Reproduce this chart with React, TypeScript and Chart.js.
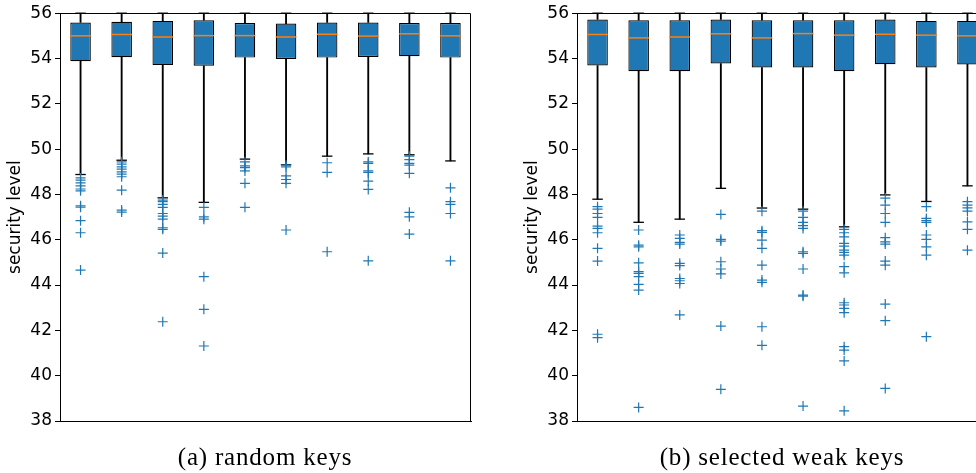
import React, { useEffect, useRef } from 'react';
import { Chart, registerables } from 'chart.js';

Chart.register(...registerables);

const categories = ['1', '2', '3', '4', '5', '6', '7', '8', '9', '10'];
const yMin = 38;
const yMax = 56;
const yStep = 2;

// (a) random keys
const q1A = [53.88, 54.06, 53.71, 53.68, 54.04, 53.98, 54.04, 54.07, 54.1, 54.04];
const medA = [55.0, 55.06, 54.95, 55.01, 55.01, 54.95, 55.07, 54.99, 55.09, 55.0];
const q3A = [55.59, 55.62, 55.66, 55.69, 55.57, 55.54, 55.59, 55.59, 55.57, 55.57];
const loA = [48.88, 49.51, 47.85, 47.65, 49.56, 49.31, 49.69, 49.79, 49.75, 49.48];
const hiA = [56, 56, 56, 56, 56, 56, 56, 56, 56, 56];
const outliersA = [
  [48.73, 48.63, 48.51, 48.38, 48.24, 48.16, 47.5, 47.44, 46.84, 46.31, 44.66],
  [49.44, 49.34, 49.22, 49.12, 49.0, 48.9, 48.78, 48.19, 47.31, 47.22],
  [47.75, 47.68, 47.56, 47.43, 47.16, 47.04, 46.91, 46.53, 46.46, 45.41, 42.38],
  [47.43, 47.01, 46.91, 44.37, 42.93, 41.31],
  [49.44, 49.26, 49.18, 49.04, 48.49, 47.43],
  [49.29, 49.22, 48.82, 48.66, 48.49, 46.43],
  [49.4, 48.97, 45.47],
  [49.44, 49.37, 49.04, 48.97, 48.59, 48.22, 45.07],
  [49.69, 49.54, 49.37, 49.29, 48.93, 47.21, 47.01, 46.25],
  [48.29, 47.68, 47.56, 47.16, 45.07],
];

// (b) selected weak keys
const q1B = [53.69, 53.44, 53.44, 53.78, 53.6, 53.6, 53.44, 53.75, 53.6, 53.74];
const medB = [55.06, 54.91, 54.95, 55.09, 54.91, 55.1, 55.03, 55.07, 55.03, 55.0];
const q3B = [55.72, 55.69, 55.69, 55.72, 55.69, 55.69, 55.69, 55.72, 55.66, 55.66];
const loB = [47.79, 46.77, 46.91, 48.27, 47.4, 47.35, 46.57, 47.98, 47.69, 48.38];
const hiB = [56, 56, 56, 56, 56, 56, 56, 56, 56, 56];
const outliersB = [
  [47.46, 47.35, 47.16, 46.99, 46.6, 46.5, 46.31, 45.62, 45.06, 41.83, 41.68],
  [46.43, 45.76, 45.69, 44.98, 44.59, 44.52, 44.37, 44.03, 43.78, 38.6],
  [46.21, 46.06, 45.88, 45.81, 44.96, 44.86, 44.29, 44.19, 44.07, 42.68],
  [47.12, 46.02, 45.94, 45.03, 44.71, 44.49, 42.19, 39.4],
  [47.26, 46.4, 46.33, 45.98, 45.62, 44.88, 44.22, 44.12, 42.16, 41.34],
  [47.26, 46.99, 46.77, 46.62, 46.5, 45.47, 45.4, 44.71, 43.56, 43.51, 38.66],
  [46.46, 46.31, 46.13, 45.84, 45.72, 45.54, 45.44, 45.32, 44.81, 44.54, 43.22, 43.12, 42.97, 42.78, 41.28, 41.13, 40.65, 38.45],
  [47.84, 47.53, 47.16, 46.77, 46.09, 45.91, 45.81, 45.06, 44.88, 43.16, 42.43, 39.44],
  [47.46, 46.94, 46.84, 46.77, 46.21, 46.02, 45.69, 45.32, 41.72],
  [47.68, 47.53, 47.41, 47.26, 46.79, 46.46, 45.54],
];

const yLabel = 'security level';
const captionA = '(a) random keys';
const captionB = '(b) selected weak keys';

const BLUE = '#1f77b4';
const ORANGE = '#ff7f0e';

type PanelProps = {
  q1: number[];
  med: number[];
  q3: number[];
  lo: number[];
  hi: number[];
  outliers: number[][];
  left: number;
};

function BoxPanel({ q1, med, q3, lo, hi, outliers, left }: PanelProps) {
  const ref = useRef<HTMLCanvasElement>(null);
  useEffect(() => {
    if (!ref.current) return;
    const frame = {
      id: 'frame',
      afterDatasetsDraw(chart: any) {
        const { ctx, chartArea } = chart;
        ctx.save();
        ctx.strokeStyle = '#000';
        ctx.lineWidth = 1;
        const t = Math.round(chartArea.top) + 0.5;
        const r = Math.round(chartArea.right) - 0.5;
        ctx.beginPath();
        ctx.moveTo(chartArea.left, t);
        ctx.lineTo(r, t);
        ctx.lineTo(r, chartArea.bottom);
        ctx.stroke();
        ctx.restore();
      },
    };
    const pts = (vals: number[]) => vals.map((v, i) => ({ x: categories[i], y: v }));
    const outPts: any[] = [];
    outliers.forEach((arr, i) => arr.forEach((v) => outPts.push({ x: categories[i], y: v })));

    const chart = new Chart(ref.current, {
      type: 'bar',
      data: {
        labels: categories,
        datasets: [
          {
            type: 'line',
            data: outPts,
            showLine: false,
            pointStyle: 'cross',
            pointRadius: 5,
            pointBorderColor: BLUE,
            pointBackgroundColor: BLUE,
            pointBorderWidth: 1.2,
            clip: false,
            order: 0,
          } as any,
          {
            type: 'line',
            data: pts(med),
            showLine: false,
            pointStyle: 'line',
            pointRadius: 10.25,
            pointBorderColor: ORANGE,
            pointBorderWidth: 1.5,
            clip: false,
            order: 1,
          } as any,
          {
            type: 'line',
            data: [...pts(lo), ...pts(hi)],
            showLine: false,
            pointStyle: 'line',
            pointRadius: 5.25,
            pointBorderColor: '#000',
            pointBorderWidth: 1.3,
            clip: false,
            order: 2,
          } as any,
          {
            type: 'bar',
            data: q1.map((v, i) => [v, q3[i]]),
            backgroundColor: BLUE,
            borderColor: '#000',
            borderWidth: 1.2,
            borderSkipped: false,
            barPercentage: 0.5,
            categoryPercentage: 1,
            grouped: false,
            order: 3,
          } as any,
          {
            type: 'bar',
            data: lo.map((v, i) => [v, q1[i]]),
            backgroundColor: '#000',
            borderWidth: 0,
            barThickness: 1.2,
            grouped: false,
            order: 4,
          } as any,
          {
            type: 'bar',
            data: q3.map((v, i) => [v, hi[i]]),
            backgroundColor: '#000',
            borderWidth: 0,
            barThickness: 1.2,
            grouped: false,
            order: 4,
          } as any,
        ],
      },
      options: {
        responsive: false,
        animation: false,
        events: [],
        layout: { padding: { top: 13, right: 17, bottom: 52, left: 0 } },
        plugins: {
          legend: { display: false },
          tooltip: { enabled: false },
          title: { display: false },
        },
        scales: {
          x: {
            type: 'category',
            offset: true,
            grid: { display: false },
            ticks: { display: false },
            border: { display: true, color: '#000', width: 1 },
            afterFit: (s: any) => {
              s.height = 0;
            },
          },
          y: {
            min: yMin,
            max: yMax,
            ticks: {
              stepSize: yStep,
              color: '#000',
              padding: 3,
              font: { family: 'DejaVu Sans', size: 17 },
            },
            grid: { drawOnChartArea: false, drawTicks: true, tickLength: 5, color: '#000' },
            border: { display: true, color: '#000', width: 1 },
            title: {
              display: true,
              text: yLabel,
              color: '#000',
              font: { family: 'DejaVu Sans', size: 17 },
              padding: { top: 5, bottom: 0 },
            },
            afterFit: (s: any) => {
              s.width = 60;
            },
          },
        },
      } as any,
      plugins: [frame],
    });
    return () => chart.destroy();
  }, []);
  return (
    <canvas
      ref={ref}
      width={488}
      height={473}
      style={{ position: 'absolute', left, top: 0, width: 488, height: 473 }}
    />
  );
}

const captionStyle = (center: number): React.CSSProperties => ({
  position: 'absolute',
  left: center - 200,
  width: 400,
  top: 442,
  textAlign: 'center',
  fontFamily: '"Liberation Serif", serif',
  fontSize: 25,
  letterSpacing: 0.8,
  lineHeight: '30px',
  color: '#000',
  whiteSpace: 'nowrap',
});

export default function App() {
  return (
    <div
      style={{
        position: 'fixed',
        left: 0,
        top: 0,
        width: 976,
        height: 473,
        overflow: 'hidden',
        background: '#fff',
      }}
    >
      <BoxPanel q1={q1A} med={medA} q3={q3A} lo={loA} hi={hiA} outliers={outliersA} left={0} />
      <BoxPanel q1={q1B} med={medB} q3={q3B} lo={loB} hi={hiB} outliers={outliersB} left={517} />
      <div style={captionStyle(265)}>{captionA}</div>
      <div style={captionStyle(782)}>{captionB}</div>
    </div>
  );
}
